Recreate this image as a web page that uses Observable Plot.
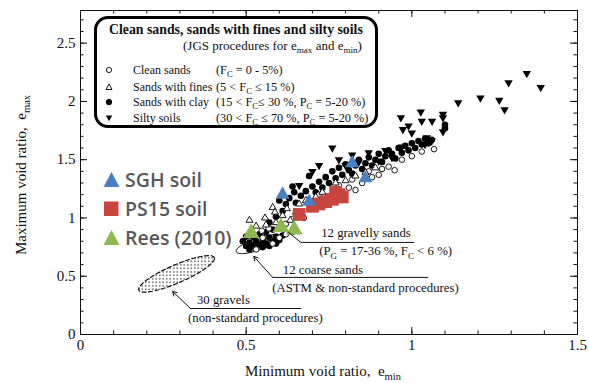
<!DOCTYPE html>
<html><head><meta charset="utf-8">
<script src="https://cdn.jsdelivr.net/npm/d3@7"></script>
<script src="https://cdn.jsdelivr.net/npm/@observablehq/plot@0.6"></script>
<style>
body{margin:0;background:#fff;}
#wrap{position:relative;width:589px;height:383px;overflow:hidden;font-family:"Liberation Serif",serif;color:#111;}
.abs{position:absolute;white-space:nowrap;}
.box{position:absolute;left:94px;top:16px;width:278px;height:106px;border:3px solid #000;border-radius:14px;background:#fff;}
.sub{font-size:0.7em;position:relative;top:0.35em;}
.lg{position:absolute;font-family:"Open Sans",sans-serif;font-weight:600;font-size:19.5px;color:#595959;white-space:nowrap;line-height:22px;}
</style></head><body><div id="wrap"></div><script>
// ---- data ----
const xTickValues = [0, 0.5, 1, 1.5];
const yTickValues = [0, 0.5, 1, 1.5, 2, 2.5];

const cleanSands = [[0.53,0.73],[0.55,0.83],[0.547,0.89],[0.568,0.91],[0.60,0.83],[0.62,0.86],[0.64,0.88],[0.663,1.04],[0.674,1.00],[0.70,1.09],[0.62,0.95],[0.64,0.99],[0.74,1.15],[0.76,1.18],[0.79,1.22],[0.81,1.26],[0.83,1.24],[0.85,1.30],[0.82,1.33],[0.88,1.35],[0.91,1.42],[0.93,1.44],[0.948,1.41],[0.97,1.50],[1.00,1.53],[1.03,1.57],[1.067,1.59],[0.87,1.40],[0.90,1.37],[0.58,0.78],[0.78,1.28],[0.72,1.20]];
const sandsWithFines = [[0.51,0.98],[0.58,1.09],[0.587,1.05],[0.61,1.02],[0.623,1.08],[0.633,0.98],[0.557,1.00],[0.66,1.12],[0.53,0.93],[0.56,0.94],[0.59,0.96],[0.68,1.15],[0.71,1.18],[0.73,1.22],[0.77,1.30],[0.80,1.32],[0.83,1.36],[0.86,1.39],[0.89,1.43],[0.65,1.05]];
const sandsWithClay = [[0.49,0.80],[0.50,0.76],[0.51,0.73],[0.51,0.79],[0.52,0.76],[0.53,0.74],[0.53,0.80],[0.54,0.77],[0.55,0.75],[0.55,0.81],[0.56,0.78],[0.57,0.76],[0.57,0.83],[0.58,0.80],[0.59,0.78],[0.59,0.84],[0.60,0.81],[0.61,0.85],[0.52,0.84],[0.54,0.86],[0.56,0.88],[0.58,0.90],[0.60,0.92],[0.50,0.84],
 [0.57,0.96],[0.59,1.01],[0.61,1.06],[0.62,1.12],[0.63,1.17],[0.645,1.22],[0.65,1.13],[0.665,1.19],[0.68,1.23],[0.69,1.36],[0.70,1.27],[0.71,1.22],[0.72,1.31],[0.73,1.26],[0.74,1.35],[0.75,1.30],[0.76,1.40],[0.77,1.34],[0.78,1.43],[0.79,1.37],[0.80,1.46],[0.81,1.41],[0.82,1.38],[0.83,1.45],[0.84,1.50],[0.85,1.42],[0.86,1.47],[0.87,1.52],[0.88,1.45],[0.89,1.50],[0.90,1.55],[0.91,1.48],[0.92,1.53],[0.93,1.58],[0.94,1.55],[0.95,1.51],[0.96,1.60],[0.97,1.56],[0.98,1.62],[0.99,1.58],[1.00,1.64],[1.01,1.60],[1.02,1.66],[1.03,1.63],[1.04,1.68],[1.05,1.64],[1.06,1.67],[1.10,1.80],[1.10,1.77],[0.64,1.27],[0.60,1.15]];
const siltySoils = [[1.347,2.24],[1.389,2.12],[1.292,2.16],[1.207,2.03],[1.264,2.01],[1.28,1.93],[1.14,1.99],
 [1.027,1.91],[1.094,1.89],[1.094,1.86],[1.061,1.83],[1.03,1.83],[0.967,1.86],[0.973,1.76],[0.99,1.79],[1.0,1.73],[1.094,1.74],[1.045,1.69],
 [0.76,1.60],[0.78,1.50],[0.82,1.54],[0.87,1.56],[0.97,1.61],[0.92,1.58],[0.90,1.49],[0.84,1.48],[0.72,1.45],[0.70,1.40],[0.66,1.28],[0.94,1.52],[1.04,1.63],[1.06,1.66],[0.80,1.45]];
const sghSoil = [[0.61,1.20],[0.69,1.14],[0.82,1.47],[0.86,1.34]];
const ps15Soil = [[0.66,1.03],[0.70,1.10],[0.72,1.12],[0.74,1.14],[0.76,1.16],[0.78,1.20],[0.79,1.18],[0.77,1.22]];
const rees2010 = [[0.515,0.87],[0.605,0.92],[0.645,0.90]];

const gravelsRegion = {from:[0.176,0.38], to:[0.404,0.66]};
const coarseSandsRegion = {from:[0.47,0.71], to:[0.60,0.84]};

const leaderGravelly = [[0.628,0.876],[0.665,0.790],[1.006,0.790]];
const leaderCoarse = [[0.523,0.670],[0.580,0.490],[1.048,0.490]];
const leaderGravels = [[0.278,0.369],[0.332,0.223],[0.665,0.223]];

const notes = [
  {x:0.728, y:0.870, parts:[["12 gravelly sands"]]},
  {x:0.722, y:0.713, parts:[["(P"],["G",1],[" = 17-36 %, F"],["C",1],[" < 6 %)"]]},
  {x:0.612, y:0.555, parts:[["12 coarse sands"]]},
  {x:0.580, y:0.400, parts:[["(ASTM & non-standard procedures)"]]},
  {x:0.353, y:0.292, parts:[["30 gravels"]]},
  {x:0.326, y:0.137, parts:[["(non-standard procedures)"]]}
];

// ---- layout ----
const W=589,H=383,mL=80,mR=12,mT=10,mB=49;
const xMax=1.5, yMax=2.78;
const innerW=W-mL-mR, innerH=H-mT-mB;
const sx=innerW/xMax, sy=innerH/yMax;
function ellipse(r, halfPx){
  const [x1,y1]=r.from,[x2,y2]=r.to;
  const cx=(x1+x2)/2, cy=(y1+y2)/2, ux=(x2-x1)/2, uy=(y2-y1)/2;
  const upx=ux*sx, upy=uy*sy, L=Math.hypot(upx,upy);
  const vx=-upy/L*halfPx/sx, vy=upx/L*halfPx/sy;
  return d3.range(0,73).map(i=>{const t=i/72*2*Math.PI;return [cx+Math.cos(t)*ux+Math.sin(t)*vx, cy+Math.cos(t)*uy+Math.sin(t)*vy];});
}
const xMinor=d3.range(0,1.5001,0.1), yMinor=d3.range(0,yMax,0.1);
const xMajor=[0.5,1], yMajor=[0.5,1,1.5,2,2.5];
const X=d=>d[0], Y=d=>d[1];

const plot = Plot.plot({
  width:W, height:H, marginLeft:mL, marginRight:mR, marginTop:mT, marginBottom:mB,
  style:{fontFamily:"Liberation Serif, serif", fontSize:"15px", color:"#111", background:"white"},
  x:{domain:[0,xMax]}, y:{domain:[0,yMax]},
  marks:[
    Plot.ruleX(xMinor,{insetTop:innerH-3.5, stroke:"#111"}),
    Plot.ruleX(xMinor,{insetBottom:innerH-3.5, stroke:"#111"}),
    Plot.ruleX(xMajor,{insetTop:innerH-7, stroke:"#111"}),
    Plot.ruleX(xMajor,{insetBottom:innerH-7, stroke:"#111"}),
    Plot.ruleY(yMinor,{insetRight:innerW-3.5, stroke:"#111"}),
    Plot.ruleY(yMinor,{insetLeft:innerW-3.5, stroke:"#111"}),
    Plot.ruleY(yMajor,{insetRight:innerW-7, stroke:"#111"}),
    Plot.ruleY(yMajor,{insetLeft:innerW-7, stroke:"#111"}),
    Plot.frame({stroke:"#111"}),
    Plot.axisX(xTickValues,{tickSize:0, tickPadding:5, fontSize:15, tickFormat:d=>String(d), label:null}),
    Plot.axisY(yTickValues,{tickSize:0, tickPadding:5, fontSize:15, tickFormat:d=>String(d), label:null}),
    Plot.line(ellipse(gravelsRegion,9),{x:X,y:Y,fill:"url(#dots)",stroke:"#111",strokeWidth:1.2,strokeDasharray:"4,2.5"}),
    Plot.line(ellipse(coarseSandsRegion,6),{x:X,y:Y,fill:"white",stroke:"#111",strokeWidth:1}),
    Plot.dot(sandsWithClay,{x:X,y:Y,r:3.3,fill:"#000",stroke:"none"}),
    Plot.dot(cleanSands,{x:X,y:Y,r:2.8,fill:"white",stroke:"#000",strokeWidth:0.9}),
    Plot.dot(sandsWithFines,{x:X,y:Y,r:2.6,symbol:"triangle",fill:"white",stroke:"#000",strokeWidth:0.9}),
    Plot.dot(siltySoils,{x:X,y:Y,r:3.1,symbol:"triangle",rotate:180,fill:"#000",stroke:"none"}),
    Plot.dot(ps15Soil,{x:X,y:Y,r:7.2,symbol:"square",fill:"#C8453F",stroke:"none"}),
    Plot.dot(sghSoil,{x:X,y:Y,r:5.2,symbol:"triangle",fill:"#4A7FC1",stroke:"none"}),
    Plot.dot(rees2010,{x:X,y:Y,r:6.2,symbol:"triangle",fill:"#8DB94E",stroke:"none"}),
    Plot.arrow([leaderCoarse],{x1:d=>d[1][0],y1:d=>d[1][1],x2:d=>d[0][0],y2:d=>d[0][1],stroke:"#111",strokeWidth:1,headLength:7}),
    Plot.arrow([leaderGravels],{x1:d=>d[1][0],y1:d=>d[1][1],x2:d=>d[0][0],y2:d=>d[0][1],stroke:"#111",strokeWidth:1,headLength:7}),
    Plot.line(leaderCoarse.slice(1),{x:X,y:Y,stroke:"#111",strokeWidth:1}),
    Plot.line(leaderGravels.slice(1),{x:X,y:Y,stroke:"#111",strokeWidth:1}),
    Plot.line(leaderGravelly,{x:X,y:Y,stroke:"#111",strokeWidth:1})
  ]
});
d3.select(plot).insert("defs",":first-child").html('<pattern id="dots" width="3.5" height="3.5" patternUnits="userSpaceOnUse"><circle cx="1.75" cy="1.75" r="0.75" fill="#111"/></pattern>');

const xs=plot.scale("x"), ys=plot.scale("y");
const svg=d3.select(plot);
const fs=12.8;
notes.forEach(n=>{
  const t=svg.append("text").attr("x",xs.apply(n.x)).attr("y",ys.apply(n.y)+fs*0.33)
    .attr("text-anchor","start").attr("font-size",fs).attr("fill","#111").attr("font-family","Liberation Serif, serif");
  let shifted=false;
  n.parts.forEach(p=>{
    const ts=t.append("tspan").text(p[0]);
    if(p[1]){ts.attr("dy",fs*0.3).attr("font-size",fs*0.7);shifted=true;}
    else if(shifted){ts.attr("dy",-fs*0.3);shifted=false;}
  });
});

const wrap=document.getElementById("wrap");
wrap.appendChild(plot);
function add(html, css, cls){const d=document.createElement("div");d.className=cls||"abs";d.innerHTML=html;Object.assign(d.style,css);wrap.appendChild(d);return d;}
// axis titles
add('Minimum void ratio, &nbsp;e<span class="sub">min</span>',{left:"245px",top:"362px",fontSize:"15px",lineHeight:"18px"});
add('Maximum void ratio, &nbsp;e<span class="sub">max</span>',{left:"22px",top:"175px",fontSize:"15px",lineHeight:"18px",transform:"translate(-50%,-50%) rotate(-90deg)"});
// legend box
add('',{},"box");
add('<b>Clean sands, sands with fines and silty soils</b>',{left:"109px",top:"22px",fontSize:"13.8px",lineHeight:"16px"});
add('(JGS procedures for e<span class="sub">max</span> and e<span class="sub">min</span>)',{left:"183px",top:"38px",fontSize:"13px",lineHeight:"16px"});
const icon={
 c:'<svg width="10" height="10"><circle cx="5" cy="5" r="2.6" fill="white" stroke="#000" stroke-width="0.9"/></svg>',
 t:'<svg width="10" height="10"><path d="M5,2 L8,7.5 L2,7.5Z" fill="white" stroke="#000" stroke-width="0.9"/></svg>',
 f:'<svg width="10" height="10"><circle cx="5" cy="5" r="3.1" fill="#000"/></svg>',
 s:'<svg width="10" height="10"><path d="M1.8,2.5 L8.2,2.5 L5,8.2Z" fill="#000"/></svg>'
};
const rows=[["c","Clean sands",'(F<span class="sub">C</span> = 0 - 5%)'],
 ["t","Sands with fines",'(5 &lt; F<span class="sub">C</span> ≤ 15 %)'],
 ["f","Sands with clay",'(15 &lt; F<span class="sub">C</span>≤ 30 %, P<span class="sub">C</span> = 5-20 %)'],
 ["s","Silty soils",'(30 &lt; F<span class="sub">C</span> ≤ 70 %, P<span class="sub">C</span> = 5-20 %)']];
const rowY=[70,86.5,102,117.5];
rows.forEach((r,i)=>{
  add(icon[r[0]],{left:"104px",top:(rowY[i]-5)+"px",lineHeight:"10px"});
  add(r[1],{left:"133px",top:(rowY[i]-8)+"px",fontSize:"12px",lineHeight:"16px"});
  add(r[2],{left:"216px",top:(rowY[i]-8)+"px",fontSize:"12.3px",lineHeight:"16px"});
});
// coloured legend
const lgs=[['<svg width="17" height="17" style="vertical-align:-1px"><path d="M8.5,1 L16.5,16 L0.5,16Z" fill="#4A7FC1"/></svg>',"SGH soil",180],
 ['<svg width="17" height="17" style="vertical-align:-1px"><rect x="1" y="1.5" width="14.5" height="14.5" fill="#C8453F"/></svg>',"PS15 soil",209],
 ['<svg width="17" height="17" style="vertical-align:-1px"><path d="M8.5,1 L16.5,16 L0.5,16Z" fill="#8DB94E"/></svg>',"Rees (2010)",238]];
lgs.forEach(l=>add(l[0]+' '+l[1],{left:"103px",top:(l[2]-11)+"px"},"lg"));
</script></body></html>
